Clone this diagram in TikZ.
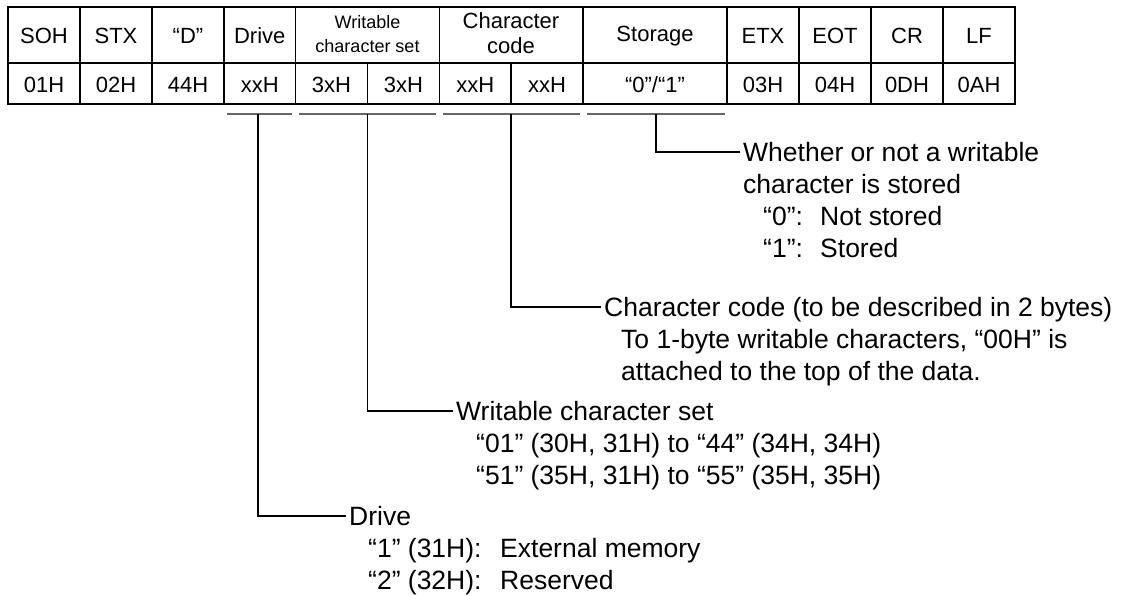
\documentclass[tikz,border=0pt]{standalone}
\usepackage{fontspec}
\setmainfont{Liberation Sans}
\usetikzlibrary{calc}
\begin{document}
\begin{tikzpicture}[x=1pt,y=-1pt,
  cell/.style={inner sep=0pt, font=\fontsize{22}{25}\selectfont, align=center, anchor=center},
  smallcell/.style={inner sep=0pt, font=\fontsize{18}{24}\selectfont, align=center, anchor=center},
  txt/.style={inner sep=0pt, anchor=base west, font=\fontsize{26.5}{31}\selectfont},
  gridline/.style={line width=1.8pt, line cap=rect},
  uline/.style={line width=1.5pt, draw=black!60},
  conn/.style={line width=1.2pt}]
\useasboundingbox (0,0) rectangle (1131,595);
% table grid
\draw[gridline] (8,7) rectangle (1015,104);
\draw[gridline] (8,63) -- (1015,63);
\foreach \x in {80,152,224,295.5,439.5,583,727,799,871,943}
  \draw[gridline] (\x,7) -- (\x,104);
\foreach \x in {367.5,511}
  \draw[gridline] (\x,63) -- (\x,104);
% header row
\node[cell] (hSOH) at (44,36) {SOH};
\node[cell] (hSTX) at (116,36) {STX};
\node[cell] (hD) at (188,36) {“D”};
\node[cell] (hDrive) at (259.75,36) {Drive};
\node[smallcell] (hWr) at (367.5,34) {Writable\\character set};
\node[cell] (hCc) at (511,33) {Character\\code};
\node[cell] (hSt) at (655,36) {Storage};
\node[cell] (hETX) at (763,36) {ETX};
\node[cell] (hEOT) at (835,36) {EOT};
\node[cell] (hCR) at (907,36) {CR};
\node[cell] (hLF) at (979,36) {LF};
% value row
\node[cell] (v1) at (44,85) {01H};
\node[cell] (v2) at (116,85) {02H};
\node[cell] (v3) at (188,85) {44H};
\node[cell] (v4) at (259.75,85) {xxH};
\node[cell] (v5) at (331.5,85) {3xH};
\node[cell] (v6) at (403.5,85) {3xH};
\node[cell] (v7) at (475.25,85) {xxH};
\node[cell] (v8) at (547,85) {xxH};
\node[cell] (v9) at (655,85) {“0”/“1”};
\node[cell] (v10) at (763,85) {03H};
\node[cell] (v11) at (835,85) {04H};
\node[cell] (v12) at (907,85) {0DH};
\node[cell] (v13) at (979,85) {0AH};
% underlines
\coordinate (dA) at (227,114); \coordinate (dB) at (292,114);
\coordinate (wrA) at (299,114); \coordinate (wrB) at (436,114);
\coordinate (ccA) at (443,114); \coordinate (ccB) at (580,114);
\coordinate (stA) at (587,114); \coordinate (stB) at (725,114);
\draw[uline] (dA) -- (dB);
\draw[uline] (wrA) -- (wrB);
\draw[uline] (ccA) -- (ccB);
\draw[uline] (stA) -- (stB);
\coordinate (uDrive) at (258,114);
\coordinate (uWr) at (367.5,114);
\coordinate (uCc) at (511,114);
\coordinate (uSt) at (656,114);
% storage description
\node[txt] (sA) at (743,161.5) {Whether or not a writable};
\node[txt] (sB) at (743,193.5) {character is stored};
\node[txt] (s0k) at (763,225.5) {“0”:};
\node[txt] (s0v) at (820,225.5) {Not stored};
\node[txt] (s1k) at (763,257.5) {“1”:};
\node[txt] (s1v) at (820,257.5) {Stored};
% character code description
\node[txt] (cA) at (604,316.5) {Character code (to be described in 2 bytes)};
\node[txt] (cB) at (621,348.5) {To 1-byte writable characters, “00H” is};
\node[txt] (cC) at (621,380.5) {attached to the top of the data.};
% writable set description
\node[txt] (wA) at (456,420.5) {Writable character set};
\node[txt] (wB) at (476,452.5) {“01” (30H, 31H) to “44” (34H, 34H)};
\node[txt] (wC) at (476,484.5) {“51” (35H, 31H) to “55” (35H, 35H)};
% drive description
\node[txt] (dT) at (349,525.5) {Drive};
\node[txt] (d1k) at (368,557.5) {“1” (31H):};
\node[txt] (d1v) at (500,557.5) {External memory};
\node[txt] (d2k) at (368,589.5) {“2” (32H):};
\node[txt] (d2v) at (500,589.5) {Reserved};
% connectors
\draw[conn] (uSt) |- ($(sA.base west)+(-3,-9.5)$);
\draw[conn] (uCc) |- ($(cA.base west)+(-3,-9.5)$);
\draw[conn] (uWr) |- ($(wA.base west)+(-3,-9.5)$);
\draw[conn] (uDrive) |- ($(dT.base west)+(-3,-9.5)$);
\end{tikzpicture}
\end{document}
